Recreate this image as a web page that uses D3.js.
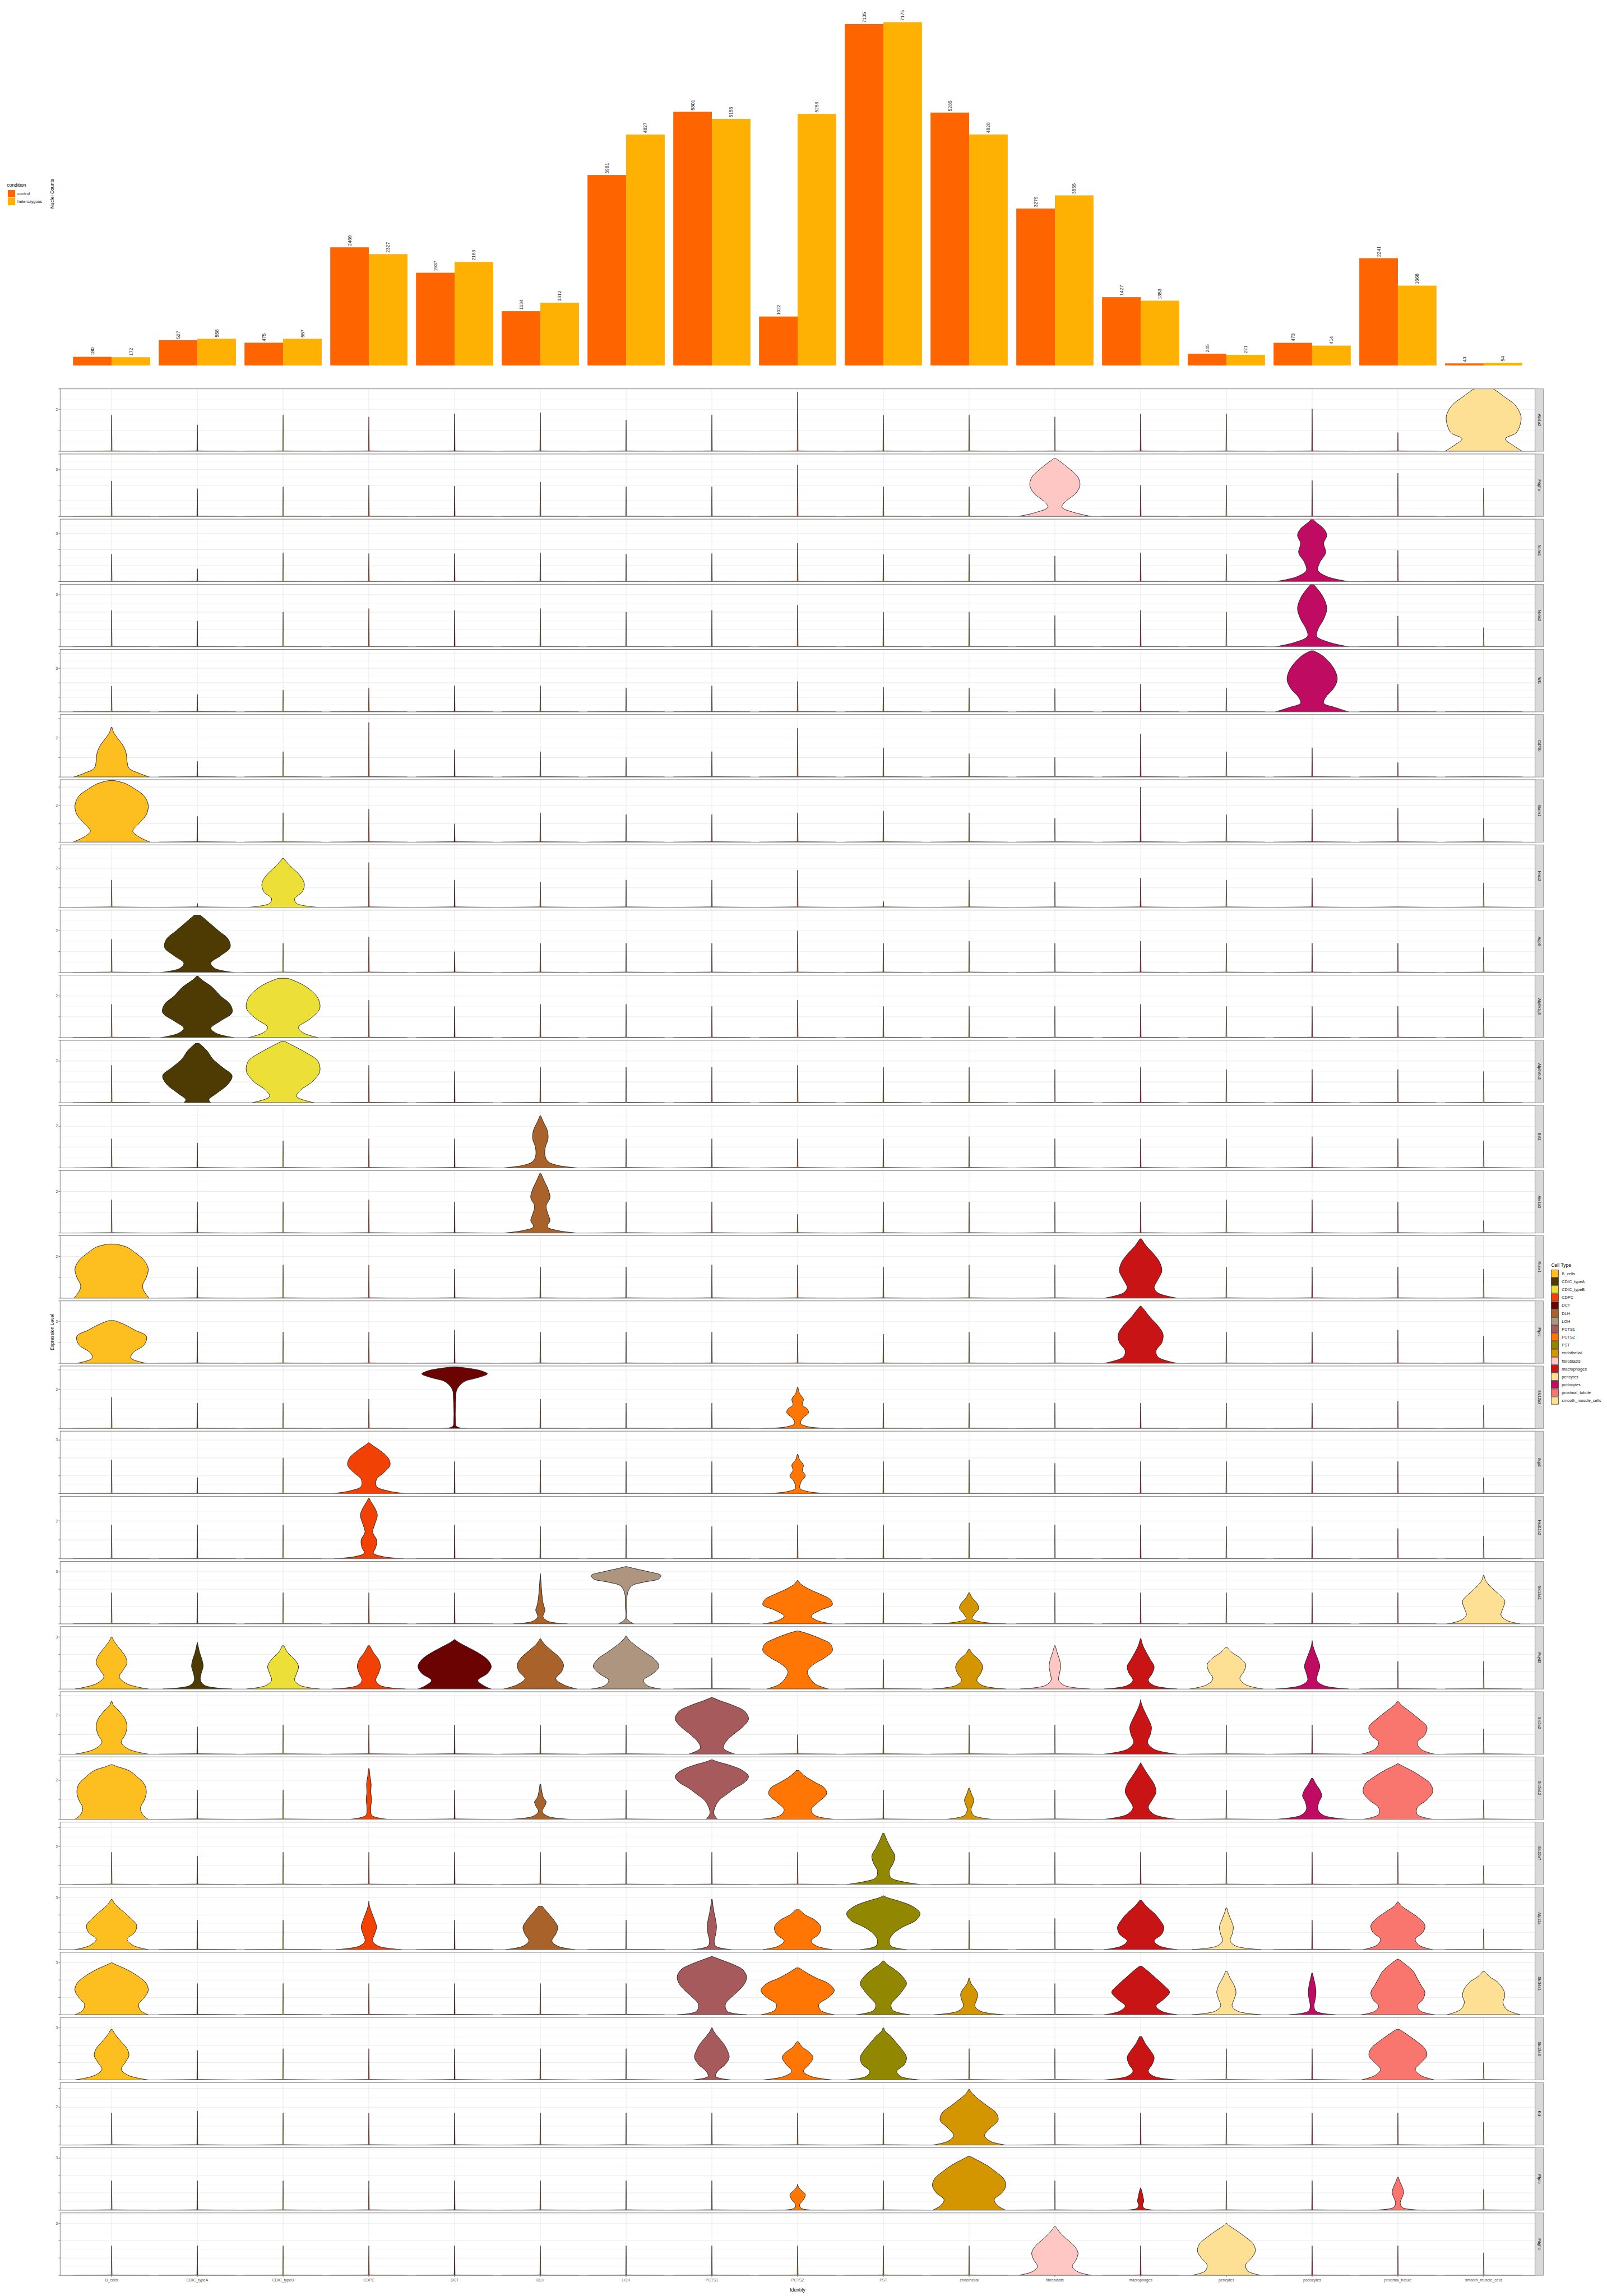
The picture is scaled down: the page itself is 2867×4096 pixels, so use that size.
<!DOCTYPE html>
<html><head><meta charset="utf-8">
<script src="https://cdn.jsdelivr.net/npm/d3@7"></script>
<style>body{margin:0;background:#fff}svg{display:block}</style>
</head><body><div id="chart"></div>
<script>
// ---------------- DATA ----------------
const cellTypes = ["B_cells","CDIC_typeA","CDIC_typeB","CDPC","DCT","DLH","LOH","PCTS1","PCTS2","PST","endothelial","fibroblasts","macrophages","pericytes","podocytes","proximal_tubule","smooth_muscle_cells"];
const cellColors = ["#FDBE1F","#4E3A03","#ECDF38","#F24105","#6B0303","#A9622A","#AD957F","#A65A5C","#FF7604","#918701","#D39601","#FEC7C3","#C91416","#FEE095","#C00B63","#F8766D","#FEE095"];
const conditions = ["control","heterozygous"];
const conditionColors = ["#FE6400","#FEB003"];
const controlCounts = [180,527,475,2469,1937,1134,3981,5301,1022,7135,5285,3279,1427,245,473,2241,43];
const heterozygousCounts = [172,558,557,2327,2163,1312,4827,5155,5258,7175,4828,3555,1353,221,414,1668,54];

const genes = ["Atp1a2","Pdgfra","Nphs1","Nphs2","Wt1","Cd79b","Bank1","Hmx2","Aqp6","Atp6v1g3","Atp6v0d2","Bst1","Akr1b3","Runx1","Ptprc","Slc12a3","Aqp2","Hsd11b2","Slc12a1","Fxyd2","Slc5a2","Slc5a12","Slc22a7","Atp11a","Slc34a1","Slc13a3","Kdr","Ptprb","Pdgfrb"];
const geneYMax = [3.0,4.0,3.9,3.6,4.3,3.2,3.4,3.2,3.0,3.0,3.0,3.0,3.0,3.0,3.0,3.2,3.5,3.3,3.6,3.6,3.2,3.2,3.3,3.6,3.6,3.6,3.3,3.6,3.6];
const geneYLabel = [2,3,3,3,3,2,2,2,2,2,2,2,2,2,2,2,3,2,3,3,2,2,2,3,3,3,2,3,3];

// height of the thin (zero-inflated) violin tails, per gene, in cell-type order; 0 = none / drawn as full violin
const spikeHeights = [
 [1.74,1.27,1.74,1.65,1.8,1.86,1.5,1.74,2.85,1.74,1.74,1.65,1.8,1.8,2.04,0.9,0],
 [2.27,1.78,1.9,2.0,1.95,2.2,1.9,1.9,3.3,1.9,1.9,0,2.0,2.0,2.3,2.77,1.8],
 [1.72,0.8,1.8,1.75,1.75,1.8,1.7,1.75,2.4,1.7,1.7,1.6,1.8,1.7,0,1.95,0],
 [2.1,1.48,2.0,2.2,2.1,2.2,2.0,2.1,2.4,2.0,2.0,1.8,2.1,2.0,0,1.77,1.1],
 [1.77,1.2,1.5,1.65,1.8,1.8,1.65,1.8,2.1,1.7,1.65,1.6,1.9,1.65,0,1.9,0],
 [0,0.8,1.3,2.8,1.4,1.3,1.0,1.3,2.5,1.5,1.2,1.0,2.2,1.3,1.5,0.74,0],
 [0,1.4,1.6,1.8,1.0,1.6,1.5,1.5,1.6,1.7,1.6,1.3,3.0,1.5,1.8,1.85,1.3],
 [1.4,0.2,0,2.3,1.4,1.3,1.4,1.4,1.9,0.3,1.4,1.3,1.5,1.4,1.5,0,1.25],
 [1.6,0,1.4,1.7,1.0,1.4,1.4,1.4,2.0,1.4,1.5,1.4,1.5,1.4,1.4,1.4,1.2],
 [1.6,0,0,1.8,1.5,1.6,1.6,1.5,1.8,1.5,1.5,1.5,1.6,1.5,1.5,1.5,1.4],
 [1.8,0,0,1.8,1.5,1.7,1.7,1.7,1.8,1.7,1.7,1.6,1.7,1.6,1.6,1.6,1.5],
 [1.4,1.2,1.3,1.4,1.4,0,1.4,1.4,1.4,1.4,1.5,1.4,1.4,1.4,1.5,1.4,1.3],
 [1.6,1.5,1.5,1.6,1.5,0,1.5,1.5,0.9,1.5,1.5,1.5,1.5,1.6,1.6,1.5,0.6],
 [0,1.5,1.6,1.6,1.4,1.5,1.5,1.6,1.6,1.5,1.6,1.6,0,1.5,1.5,1.5,1.4],
 [0,1.5,1.5,1.5,1.6,1.5,1.5,1.5,1.4,1.4,1.5,1.5,0,1.5,1.5,1.6,1.3],
 [1.6,1.3,1.3,1.5,0,1.5,1.3,1.3,0,1.3,1.3,1.3,1.3,1.3,1.3,1.4,1.2],
 [1.9,0.9,2.0,0,1.8,1.9,1.8,1.8,0,1.8,1.9,1.7,1.8,1.8,1.8,1.8,0.9],
 [1.8,1.8,1.8,0,1.8,1.7,1.8,1.7,1.8,1.8,1.9,1.8,1.8,1.7,1.7,1.6,1.2],
 [1.8,1.8,1.8,1.8,1.8,0,0,1.8,0,1.8,0,1.8,1.8,1.8,1.8,1.8,0],
 [0,0,0,0,0,0,0,1.8,0,1.7,0,0,0,0,0,1.6,1.6],
 [0,1.4,1.5,1.5,1.5,1.5,1.5,0,1.0,1.5,1.5,1.5,0,1.5,1.5,0,1.3],
 [0,1.5,1.5,0,1.5,0,1.5,0,0,1.5,0,1.5,0,1.5,0,0,1.0],
 [1.7,1.5,1.7,1.7,1.7,1.7,1.7,1.7,1.7,0,1.7,1.7,1.7,1.7,1.7,1.7,1.0],
 [0,1.7,1.7,0,1.7,0,1.7,0,0,0,1.7,1.8,0,0,1.7,0,1.2],
 [0,1.8,1.8,1.8,1.8,1.8,1.8,0,0,0,0,1.8,0,0,0,0,0],
 [0,1.7,1.8,1.8,1.8,1.8,1.8,0,0,0,1.8,1.8,0,1.8,1.8,0,1.0],
 [1.7,1.8,1.7,1.7,1.7,1.7,1.7,1.7,1.7,1.7,0,1.7,1.7,1.7,1.7,1.7,1.2],
 [1.7,1.7,1.7,1.7,1.7,1.7,1.7,1.7,0,1.7,0,1.7,0,1.7,1.7,0,1.2],
 [1.7,1.7,1.7,1.7,1.7,1.7,1.7,1.7,1.7,1.7,1.7,0,1.7,0,1.7,1.7,1.3]
];

// full violins: [gene, cell type, [[expression, relative half-width], ...]]
const violinShapes = [
 ["Atp1a2","smooth_muscle_cells",[[0,1.0],[0.3,0.75],[0.6,0.56],[0.9,0.85],[1.5,0.97],[1.8,0.95],[2.25,0.8],[2.6,0.55],[3.0,0.25],[3.2,0.02]]],
 ["Pdgfra","fibroblasts",[[0,0.95],[0.25,0.5],[0.6,0.18],[1.0,0.3],[1.5,0.55],[2.0,0.65],[2.5,0.6],[3.0,0.4],[3.4,0.2],[3.7,0.03]]],
 ["Nphs1","podocytes",[[0,0.95],[0.3,0.4],[0.7,0.15],[1.2,0.2],[1.8,0.35],[2.4,0.3],[2.9,0.38],[3.3,0.3],[3.7,0.1],[3.9,0.02]]],
 ["Nphs2","podocytes",[[0,0.95],[0.25,0.45],[0.6,0.12],[1.0,0.15],[1.6,0.3],[2.2,0.38],[2.8,0.3],[3.3,0.15],[3.6,0.03]]],
 ["Wt1","podocytes",[[0,0.95],[0.3,0.6],[0.6,0.3],[1.0,0.35],[1.6,0.55],[2.2,0.65],[2.8,0.6],[3.4,0.45],[3.9,0.25],[4.2,0.04]]],
 ["Cd79b","B_cells",[[0,0.98],[0.2,0.7],[0.45,0.45],[0.8,0.4],[1.2,0.38],[1.6,0.3],[2.0,0.15],[2.3,0.05],[2.55,0.01]]],
 ["Bank1","B_cells",[[0,1.0],[0.3,0.7],[0.6,0.55],[1.0,0.7],[1.5,0.9],[2.0,0.95],[2.5,0.85],[2.9,0.6],[3.2,0.35],[3.35,0.08]]],
 ["Hmx2","CDIC_typeB",[[0,0.9],[0.2,0.35],[0.45,0.3],[0.8,0.5],[1.2,0.55],[1.6,0.45],[2.0,0.25],[2.3,0.1],[2.5,0.02]]],
 ["Aqp6","CDIC_typeA",[[0,0.95],[0.2,0.45],[0.45,0.35],[0.8,0.6],[1.2,0.85],[1.6,0.8],[2.0,0.55],[2.4,0.3],[2.75,0.08]]],
 ["Atp6v1g3","CDIC_typeA",[[0,0.95],[0.2,0.5],[0.45,0.35],[0.8,0.6],[1.2,0.9],[1.6,0.85],[2.0,0.6],[2.4,0.4],[2.8,0.1],[2.95,0.02]]],
 ["Atp6v1g3","CDIC_typeB",[[0,0.9],[0.25,0.5],[0.5,0.4],[0.9,0.7],[1.4,0.95],[1.9,0.9],[2.3,0.7],[2.6,0.45],[2.85,0.12]]],
 ["Atp6v0d2","CDIC_typeA",[[0,0.35],[0.15,0.3],[0.45,0.5],[0.9,0.8],[1.3,0.9],[1.7,0.65],[2.1,0.4],[2.5,0.25],[2.85,0.05]]],
 ["Atp6v0d2","CDIC_typeB",[[0,0.8],[0.3,0.35],[0.6,0.45],[1.0,0.75],[1.5,0.95],[2.0,0.9],[2.4,0.6],[2.75,0.25],[2.95,0.04]]],
 ["Bst1","DLH",[[0,0.95],[0.12,0.45],[0.3,0.2],[0.6,0.12],[1.0,0.13],[1.4,0.2],[1.8,0.18],[2.2,0.08],[2.5,0.01]]],
 ["Akr1b3","DLH",[[0,0.95],[0.12,0.45],[0.3,0.18],[0.6,0.25],[0.9,0.2],[1.3,0.15],[1.7,0.25],[2.1,0.2],[2.5,0.1],[2.85,0.02]]],
 ["Runx1","B_cells",[[0,0.98],[0.3,0.85],[0.6,0.8],[1.0,0.9],[1.4,0.95],[1.8,0.85],[2.2,0.6],[2.45,0.4],[2.6,0.1]]],
 ["Runx1","macrophages",[[0,0.95],[0.25,0.45],[0.5,0.35],[0.9,0.45],[1.3,0.55],[1.7,0.5],[2.1,0.35],[2.5,0.15],[2.85,0.02]]],
 ["Ptprc","B_cells",[[0,0.9],[0.25,0.5],[0.5,0.55],[0.9,0.85],[1.3,0.9],[1.6,0.6],[1.85,0.35],[2.05,0.08]]],
 ["Ptprc","macrophages",[[0,0.95],[0.3,0.45],[0.6,0.4],[1.0,0.55],[1.4,0.58],[1.8,0.45],[2.2,0.25],[2.6,0.08],[2.75,0.01]]],
 ["Slc12a3","DCT",[[0,0.3],[0.1,0.05],[0.5,0.02],[1.0,0.02],[1.5,0.03],[2.0,0.06],[2.4,0.25],[2.6,0.6],[2.8,0.85],[2.95,0.7],[3.1,0.3],[3.15,0.04]]],
 ["Slc12a3","PCTS2",[[0,0.95],[0.08,0.3],[0.25,0.08],[0.5,0.12],[0.8,0.28],[1.0,0.25],[1.2,0.12],[1.5,0.15],[1.8,0.05],[2.1,0.01]]],
 ["Aqp2","CDPC",[[0,0.95],[0.15,0.5],[0.4,0.2],[0.8,0.2],[1.2,0.4],[1.6,0.55],[2.0,0.5],[2.4,0.3],[2.7,0.1],[2.85,0.01]]],
 ["Aqp2","PCTS2",[[0,0.9],[0.1,0.3],[0.3,0.06],[0.7,0.1],[1.0,0.2],[1.3,0.12],[1.6,0.15],[1.9,0.05],[2.2,0.01]]],
 ["Hsd11b2","CDPC",[[0,0.9],[0.12,0.35],[0.3,0.12],[0.6,0.18],[1.0,0.2],[1.4,0.1],[1.8,0.15],[2.3,0.22],[2.7,0.15],[3.0,0.06],[3.2,0.01]]],
 ["Slc12a1","DLH",[[0,0.7],[0.15,0.2],[0.4,0.07],[0.8,0.12],[1.1,0.08],[1.5,0.05],[2.0,0.03],[2.6,0.01],[2.9,0.0]]],
 ["Slc12a1","LOH",[[0,0.2],[0.3,0.02],[1.0,0.02],[1.8,0.04],[2.2,0.15],[2.4,0.45],[2.6,0.85],[2.8,0.9],[3.0,0.6],[3.2,0.2],[3.3,0.02]]],
 ["Slc12a1","PCTS2",[[0,0.9],[0.2,0.5],[0.45,0.35],[0.8,0.6],[1.1,0.9],[1.4,0.85],[1.7,0.6],[2.0,0.3],[2.3,0.08],[2.5,0.01]]],
 ["Slc12a1","endothelial",[[0,0.95],[0.1,0.35],[0.3,0.08],[0.6,0.15],[0.9,0.25],[1.2,0.2],[1.5,0.08],[1.8,0.01]]],
 ["Slc12a1","smooth_muscle_cells",[[0,0.95],[0.2,0.6],[0.5,0.45],[0.9,0.5],[1.3,0.55],[1.7,0.4],[2.1,0.2],[2.5,0.05],[2.8,0.01]]],
 ["Fxyd2","B_cells",[[0,0.95],[0.3,0.4],[0.7,0.2],[1.1,0.3],[1.5,0.4],[1.9,0.35],[2.3,0.22],[2.7,0.08],[3.0,0.01]]],
 ["Fxyd2","CDIC_typeA",[[0,0.9],[0.2,0.2],[0.5,0.08],[0.9,0.1],[1.3,0.15],[1.7,0.12],[2.1,0.06],[2.5,0.02],[2.7,0.0]]],
 ["Fxyd2","CDIC_typeB",[[0,0.95],[0.2,0.45],[0.5,0.3],[0.9,0.35],[1.3,0.4],[1.7,0.3],[2.1,0.12],[2.5,0.02]]],
 ["Fxyd2","CDPC",[[0,0.95],[0.2,0.3],[0.5,0.18],[0.9,0.25],[1.3,0.3],[1.7,0.25],[2.1,0.12],[2.5,0.02]]],
 ["Fxyd2","DCT",[[0,0.95],[0.2,0.75],[0.5,0.6],[0.9,0.85],[1.3,0.95],[1.7,0.85],[2.1,0.6],[2.4,0.35],[2.7,0.1],[2.85,0.01]]],
 ["Fxyd2","DLH",[[0,0.95],[0.25,0.6],[0.6,0.4],[1.0,0.55],[1.4,0.6],[1.8,0.5],[2.2,0.3],[2.6,0.1],[2.9,0.01]]],
 ["Fxyd2","LOH",[[0,0.9],[0.2,0.55],[0.5,0.45],[0.9,0.7],[1.3,0.85],[1.7,0.75],[2.1,0.5],[2.5,0.25],[2.9,0.05],[3.05,0.01]]],
 ["Fxyd2","PCTS2",[[0,0.8],[0.3,0.45],[0.7,0.3],[1.0,0.25],[1.4,0.4],[1.8,0.7],[2.2,0.9],[2.6,0.85],[2.9,0.6],[3.2,0.25],[3.35,0.02]]],
 ["Fxyd2","endothelial",[[0,0.95],[0.2,0.35],[0.5,0.2],[0.9,0.3],[1.3,0.35],[1.7,0.25],[2.0,0.1],[2.3,0.01]]],
 ["Fxyd2","fibroblasts",[[0,0.9],[0.2,0.25],[0.5,0.1],[0.9,0.12],[1.3,0.15],[1.7,0.12],[2.1,0.06],[2.5,0.01]]],
 ["Fxyd2","macrophages",[[0,0.95],[0.2,0.35],[0.5,0.2],[0.9,0.3],[1.3,0.35],[1.7,0.25],[2.1,0.15],[2.5,0.06],[2.9,0.01]]],
 ["Fxyd2","pericytes",[[0,0.95],[0.25,0.5],[0.6,0.35],[1.0,0.45],[1.4,0.5],[1.8,0.35],[2.1,0.15],[2.4,0.02]]],
 ["Fxyd2","podocytes",[[0,0.95],[0.2,0.3],[0.5,0.12],[0.9,0.15],[1.3,0.2],[1.7,0.15],[2.1,0.08],[2.5,0.02],[2.8,0.0]]],
 ["Slc5a2","B_cells",[[0,0.95],[0.25,0.45],[0.6,0.25],[1.0,0.35],[1.4,0.4],[1.8,0.35],[2.2,0.2],[2.5,0.05],[2.7,0.01]]],
 ["Slc5a2","PCTS1",[[0,0.6],[0.3,0.3],[0.6,0.35],[1.0,0.55],[1.4,0.8],[1.8,0.95],[2.2,0.85],[2.5,0.55],[2.75,0.2],[2.9,0.02]]],
 ["Slc5a2","macrophages",[[0,0.95],[0.25,0.35],[0.6,0.18],[1.0,0.25],[1.4,0.28],[1.8,0.2],[2.2,0.1],[2.6,0.02],[2.8,0.0]]],
 ["Slc5a2","proximal_tubule",[[0,0.95],[0.25,0.6],[0.6,0.5],[1.0,0.7],[1.4,0.75],[1.8,0.55],[2.2,0.3],[2.5,0.1],[2.7,0.01]]],
 ["Slc5a12","B_cells",[[0,0.95],[0.25,0.8],[0.6,0.75],[1.0,0.85],[1.4,0.9],[1.8,0.85],[2.2,0.65],[2.5,0.45],[2.7,0.15],[2.8,0.02]]],
 ["Slc5a12","CDPC",[[0,0.5],[0.2,0.08],[0.6,0.05],[1.0,0.07],[1.4,0.05],[1.8,0.06],[2.2,0.03],[2.6,0.01]]],
 ["Slc5a12","DLH",[[0,0.8],[0.15,0.2],[0.4,0.05],[0.7,0.12],[0.9,0.15],[1.1,0.08],[1.4,0.04],[1.8,0.01]]],
 ["Slc5a12","PCTS1",[[0,0.15],[0.3,0.05],[0.7,0.1],[1.0,0.2],[1.3,0.4],[1.6,0.6],[1.9,0.85],[2.2,0.95],[2.5,0.8],[2.75,0.5],[2.95,0.15],[3.05,0.02]]],
 ["Slc5a12","PCTS2",[[0,0.95],[0.2,0.45],[0.5,0.35],[0.9,0.55],[1.3,0.75],[1.6,0.7],[1.9,0.45],[2.2,0.2],[2.5,0.04]]],
 ["Slc5a12","endothelial",[[0,0.6],[0.2,0.12],[0.5,0.05],[0.8,0.1],[1.0,0.12],[1.3,0.06],[1.6,0.01]]],
 ["Slc5a12","macrophages",[[0,0.95],[0.25,0.35],[0.6,0.2],[1.0,0.3],[1.4,0.4],[1.8,0.35],[2.2,0.22],[2.5,0.12],[2.8,0.03],[2.9,0.0]]],
 ["Slc5a12","podocytes",[[0,0.95],[0.2,0.3],[0.5,0.15],[0.9,0.18],[1.2,0.25],[1.5,0.2],[1.8,0.1],[2.1,0.02]]],
 ["Slc5a12","proximal_tubule",[[0,0.9],[0.25,0.5],[0.6,0.5],[1.0,0.75],[1.4,0.9],[1.8,0.85],[2.2,0.6],[2.5,0.35],[2.75,0.1],[2.85,0.01]]],
 ["Slc22a7","PST",[[0,0.95],[0.15,0.5],[0.35,0.2],[0.7,0.15],[1.1,0.25],[1.5,0.3],[1.9,0.2],[2.3,0.1],[2.7,0.02]]],
 ["Atp11a","B_cells",[[0,0.95],[0.25,0.55],[0.6,0.4],[1.0,0.6],[1.4,0.65],[1.8,0.5],[2.2,0.3],[2.6,0.1],[2.9,0.01]]],
 ["Atp11a","CDPC",[[0,0.85],[0.2,0.25],[0.5,0.1],[0.9,0.15],[1.3,0.2],[1.7,0.15],[2.1,0.08],[2.5,0.02],[2.8,0.0]]],
 ["Atp11a","DLH",[[0,0.9],[0.2,0.45],[0.5,0.3],[0.9,0.4],[1.3,0.45],[1.7,0.35],[2.1,0.2],[2.5,0.05]]],
 ["Atp11a","PCTS1",[[0,0.5],[0.2,0.1],[0.5,0.06],[0.9,0.1],[1.3,0.12],[1.7,0.1],[2.1,0.06],[2.5,0.03],[2.9,0.01]]],
 ["Atp11a","PCTS2",[[0,0.9],[0.2,0.5],[0.5,0.35],[0.9,0.55],[1.3,0.6],[1.7,0.45],[2.0,0.2],[2.3,0.05]]],
 ["Atp11a","PST",[[0,0.6],[0.2,0.2],[0.5,0.15],[0.9,0.25],[1.3,0.5],[1.7,0.85],[2.1,0.95],[2.5,0.75],[2.8,0.4],[3.0,0.1],[3.1,0.01]]],
 ["Atp11a","macrophages",[[0,0.95],[0.2,0.5],[0.5,0.35],[0.9,0.55],[1.3,0.6],[1.7,0.5],[2.1,0.35],[2.5,0.15],[2.85,0.02]]],
 ["Atp11a","pericytes",[[0,0.9],[0.2,0.25],[0.5,0.1],[0.9,0.15],[1.3,0.18],[1.7,0.12],[2.1,0.05],[2.4,0.01]]],
 ["Atp11a","proximal_tubule",[[0,0.9],[0.25,0.55],[0.6,0.45],[1.0,0.65],[1.4,0.7],[1.8,0.55],[2.2,0.3],[2.5,0.1],[2.75,0.01]]],
 ["Slc34a1","B_cells",[[0,0.95],[0.25,0.75],[0.6,0.7],[1.0,0.85],[1.4,0.95],[1.8,0.9],[2.2,0.7],[2.6,0.4],[2.9,0.1],[3.0,0.01]]],
 ["Slc34a1","PCTS1",[[0,0.9],[0.2,0.4],[0.6,0.35],[1.0,0.5],[1.4,0.7],[1.8,0.85],[2.2,0.9],[2.6,0.8],[2.9,0.55],[3.2,0.2],[3.35,0.02]]],
 ["Slc34a1","PCTS2",[[0,0.95],[0.25,0.6],[0.6,0.55],[1.0,0.8],[1.4,0.95],[1.8,0.8],[2.1,0.5],[2.4,0.25],[2.7,0.04]]],
 ["Slc34a1","PST",[[0,0.7],[0.25,0.25],[0.6,0.2],[1.0,0.35],[1.4,0.5],[1.8,0.6],[2.2,0.5],[2.6,0.3],[2.9,0.1],[3.1,0.02]]],
 ["Slc34a1","endothelial",[[0,0.9],[0.2,0.3],[0.5,0.15],[0.9,0.2],[1.2,0.22],[1.5,0.15],[1.8,0.05],[2.1,0.01]]],
 ["Slc34a1","macrophages",[[0,0.95],[0.2,0.55],[0.5,0.4],[0.9,0.6],[1.3,0.75],[1.7,0.6],[2.1,0.4],[2.5,0.2],[2.8,0.03]]],
 ["Slc34a1","pericytes",[[0,0.9],[0.2,0.3],[0.5,0.15],[0.9,0.2],[1.3,0.25],[1.7,0.2],[2.1,0.1],[2.5,0.02]]],
 ["Slc34a1","podocytes",[[0,0.6],[0.2,0.1],[0.5,0.05],[0.9,0.08],[1.3,0.1],[1.7,0.08],[2.1,0.04],[2.4,0.01]]],
 ["Slc34a1","proximal_tubule",[[0,0.95],[0.2,0.6],[0.5,0.5],[0.9,0.65],[1.3,0.7],[1.7,0.6],[2.1,0.5],[2.5,0.4],[2.9,0.2],[3.2,0.02]]],
 ["Slc34a1","smooth_muscle_cells",[[0,0.95],[0.3,0.6],[0.7,0.5],[1.1,0.55],[1.5,0.5],[1.9,0.35],[2.2,0.15],[2.5,0.02]]],
 ["Slc13a3","B_cells",[[0,0.95],[0.25,0.45],[0.6,0.25],[1.0,0.35],[1.4,0.45],[1.8,0.4],[2.2,0.25],[2.6,0.1],[2.9,0.02]]],
 ["Slc13a3","PCTS1",[[0,0.5],[0.2,0.1],[0.5,0.15],[0.9,0.35],[1.3,0.45],[1.7,0.4],[2.1,0.3],[2.5,0.15],[2.8,0.05],[3.0,0.01]]],
 ["Slc13a3","PCTS2",[[0,0.9],[0.2,0.35],[0.5,0.15],[0.9,0.3],[1.3,0.4],[1.6,0.3],[1.9,0.12],[2.2,0.02]]],
 ["Slc13a3","PST",[[0,0.95],[0.2,0.45],[0.5,0.35],[0.9,0.55],[1.3,0.6],[1.7,0.5],[2.1,0.35],[2.5,0.2],[2.8,0.05],[3.0,0.01]]],
 ["Slc13a3","macrophages",[[0,0.95],[0.2,0.35],[0.5,0.2],[0.9,0.3],[1.3,0.35],[1.7,0.25],[2.1,0.12],[2.5,0.03]]],
 ["Slc13a3","proximal_tubule",[[0,0.95],[0.25,0.6],[0.6,0.45],[1.0,0.6],[1.4,0.75],[1.8,0.7],[2.2,0.5],[2.6,0.25],[2.9,0.05]]],
 ["Kdr","endothelial",[[0,0.95],[0.2,0.55],[0.5,0.4],[0.9,0.55],[1.3,0.75],[1.7,0.7],[2.1,0.45],[2.5,0.2],[2.8,0.05],[2.95,0.01]]],
 ["Ptprb","endothelial",[[0,0.95],[0.25,0.75],[0.6,0.65],[1.0,0.85],[1.4,0.95],[1.8,0.9],[2.2,0.7],[2.6,0.45],[2.9,0.2],[3.1,0.03]]],
 ["Ptprb","PCTS2",[[0,0.7],[0.1,0.1],[0.3,0.05],[0.6,0.15],[0.9,0.2],[1.1,0.12],[1.3,0.03],[1.5,0.0]]],
 ["Ptprb","macrophages",[[0,0.8],[0.1,0.1],[0.3,0.05],[0.5,0.08],[0.8,0.06],[1.1,0.03],[1.3,0.0]]],
 ["Ptprb","proximal_tubule",[[0,0.7],[0.15,0.12],[0.4,0.06],[0.7,0.1],[1.0,0.15],[1.3,0.12],[1.6,0.06],[1.9,0.01]]],
 ["Pdgfrb","fibroblasts",[[0,0.95],[0.2,0.6],[0.5,0.45],[0.9,0.55],[1.3,0.6],[1.7,0.5],[2.1,0.3],[2.5,0.12],[2.8,0.02]]],
 ["Pdgfrb","pericytes",[[0,0.9],[0.25,0.55],[0.6,0.5],[1.0,0.65],[1.4,0.75],[1.8,0.7],[2.2,0.5],[2.6,0.25],[2.9,0.05],[3.0,0.01]]]
];

// ---------------- LAYOUT ----------------
const S = 0.819;
const FONT = "'Liberation Sans', Arial, Helvetica, sans-serif";
const svg = d3.select("#chart").append("svg").attr("width", 2867).attr("height", 4096)
  .style("font-family", FONT);
svg.append("rect").attr("width", 2867).attr("height", 4096).attr("fill", "#fff");
const defs = svg.append("defs");
const root = svg.append("g").attr("transform", `scale(${S})`);

const plotLeft = 131, plotRight = 3344;
const x = d3.scalePoint().domain(cellTypes).range([plotLeft, plotRight]).padding(0.6);
const step = x.step();
const colorOf = d3.scaleOrdinal().domain(cellTypes).range(cellColors);

// ---------------- BAR CHART ----------------
const barBottom = 796;
const allCounts = controlCounts.concat(heterozygousCounts);
const yBar = d3.scaleLinear().domain([0, d3.max(allCounts) * 1.05]).range([barBottom, 10.9]);
const barData = [];
cellTypes.forEach((c, i) => {
  barData.push({cell: c, cond: 0, v: controlCounts[i]});
  barData.push({cell: c, cond: 1, v: heterozygousCounts[i]});
});
const bw = step * 0.45;
const gBar = root.append("g");
gBar.selectAll("rect.bar").data(barData).join("rect")
  .attr("x", d => x(d.cell) - bw + d.cond * bw)
  .attr("y", d => yBar(d.v))
  .attr("width", bw)
  .attr("height", d => barBottom - yBar(d.v))
  .attr("fill", d => conditionColors[d.cond]);
gBar.selectAll("text.lab").data(barData).join("text")
  .attr("transform", d => `translate(${x(d.cell) - bw / 2 + d.cond * bw},${yBar(d.v) - 3}) rotate(-90)`)
  .attr("dy", "0.35em")
  .attr("font-size", 10.5).attr("fill", "#2b2b2b")
  .text(d => d.v);
gBar.append("text").attr("transform", "translate(117,422) rotate(-90)")
  .attr("text-anchor", "middle").attr("font-size", 10.5).attr("fill", "#000").text("Nuclei Counts");
// condition legend
const gCond = root.append("g");
gCond.append("text").attr("x", 15).attr("y", 406).attr("font-size", 10.5).attr("fill", "#000").text("condition");
conditions.forEach((c, k) => {
  gCond.append("rect").attr("x", 17).attr("y", 414 + k * 17).attr("width", 16).attr("height", 16).attr("fill", conditionColors[k]);
  gCond.append("text").attr("x", 38).attr("y", 425.5 + k * 17).attr("font-size", 9).attr("fill", "#222").text(c);
});

// ---------------- STACKED VIOLINS ----------------
const panelTop0 = 847, panelStride = 141.9, panelH = 136;
const hw = step * 0.45;
genes.forEach((gene, gi) => {
  const top = panelTop0 + gi * panelStride, bottom = top + panelH;
  const ymax = geneYMax[gi];
  const y = d3.scaleLinear().domain([0, ymax]).range([bottom, top]);
  const g = root.append("g");
  const clipId = "clip" + gi;
  defs.append("clipPath").attr("id", clipId).attr("clipPathUnits", "userSpaceOnUse").append("rect")
    .attr("x", plotLeft).attr("y", top).attr("width", plotRight - plotLeft).attr("height", panelH);
  // grid
  const minor = d3.range(0.5, ymax, 1);
  const major = d3.range(0, ymax + 1e-9, 1);
  g.selectAll("line.minor").data(minor).join("line")
    .attr("x1", plotLeft).attr("x2", plotRight).attr("y1", d => y(d)).attr("y2", d => y(d))
    .attr("stroke", "#F3F3F3").attr("stroke-width", 0.8);
  g.selectAll("line.major").data(major).join("line")
    .attr("x1", plotLeft).attr("x2", plotRight).attr("y1", d => y(d)).attr("y2", d => y(d))
    .attr("stroke", "#EBEBEB").attr("stroke-width", 1.3);
  g.selectAll("line.vgrid").data(cellTypes).join("line")
    .attr("x1", d => x(d)).attr("x2", d => x(d)).attr("y1", top).attr("y2", bottom)
    .attr("stroke", "#EBEBEB").attr("stroke-width", 1.3);
  // violins
  const vg = g.append("g").attr("clip-path", `url(#${clipId})`);
  const shapesHere = violinShapes.filter(s => s[0] === gene);
  cellTypes.forEach((c, ci) => {
    const cx = x(c);
    const shape = shapesHere.find(s => s[1] === c);
    if (shape) {
      const area = d3.area().curve(d3.curveCatmullRom.alpha(0.5))
        .x0(d => cx - d[1] * hw).x1(d => cx + d[1] * hw).y(d => y(d[0]));
      vg.append("path").attr("d", area(shape[2]))
        .attr("fill", colorOf(c)).attr("stroke", "#1a1a1a").attr("stroke-width", 1.1)
        .attr("stroke-linejoin", "round");
    } else {
      const h = spikeHeights[gi][ci];
      // flattened zero-inflated violin: wide base at 0 and a thin tail up to its maximum
      const prof = [[0, 1.0], [ymax * 0.007, 0.012], [Math.max(h, ymax * 0.008), 0.002]];
      const area = d3.area().curve(d3.curveLinear)
        .x0(d => cx - d[1] * hw).x1(d => cx + d[1] * hw).y(d => y(d[0]));
      vg.append("path").attr("d", area(prof))
        .attr("fill", colorOf(c)).attr("stroke", "#222").attr("stroke-width", 0.9)
        .attr("stroke-linejoin", "miter");
    }
  });
  // border
  g.append("rect").attr("x", plotLeft).attr("y", top).attr("width", plotRight - plotLeft).attr("height", panelH)
    .attr("fill", "none").attr("stroke", "#7a7a7a").attr("stroke-width", 1.2);
  // y ticks
  g.selectAll("line.tick").data(major).join("line")
    .attr("x1", plotLeft - 3.5).attr("x2", plotLeft).attr("y1", d => y(d)).attr("y2", d => y(d))
    .attr("stroke", "#555").attr("stroke-width", 1);
  g.append("text").attr("x", plotLeft - 5).attr("y", y(geneYLabel[gi])).attr("dy", "0.35em")
    .attr("text-anchor", "end").attr("font-size", 8).attr("fill", "#4d4d4d").text(geneYLabel[gi]);
  // strip
  g.append("rect").attr("x", plotRight).attr("y", top).attr("width", 18).attr("height", panelH)
    .attr("fill", "#D9D9D9").attr("stroke", "#8a8a8a").attr("stroke-width", 1);
  g.append("text").attr("transform", `translate(${plotRight + 9},${top + panelH / 2}) rotate(90)`)
    .attr("text-anchor", "middle").attr("dy", "0.35em").attr("font-size", 8.5).attr("fill", "#1a1a1a").text(gene);
});

// x axis (bottom)
const lastBottom = panelTop0 + (genes.length - 1) * panelStride + panelH;
const gx = root.append("g");
gx.selectAll("line").data(cellTypes).join("line")
  .attr("x1", d => x(d)).attr("x2", d => x(d)).attr("y1", lastBottom).attr("y2", lastBottom + 3.5)
  .attr("stroke", "#555").attr("stroke-width", 1);
gx.selectAll("text").data(cellTypes).join("text")
  .attr("x", d => x(d)).attr("y", lastBottom + 13).attr("text-anchor", "middle")
  .attr("font-size", 8.5).attr("fill", "#4d4d4d").text(d => d);
root.append("text").attr("x", (plotLeft + plotRight) / 2).attr("y", 4991).attr("text-anchor", "middle")
  .attr("font-size", 10.5).attr("fill", "#000").text("Identity");
root.append("text").attr("transform", `translate(117,${(panelTop0 + lastBottom) / 2}) rotate(-90)`)
  .attr("text-anchor", "middle").attr("font-size", 10.5).attr("fill", "#000").text("Expression Level");

// Cell Type legend
const gLeg = root.append("g");
gLeg.append("text").attr("x", 3379).attr("y", 2760).attr("font-size", 10.5).attr("fill", "#000").text("Cell Type");
gLeg.selectAll("rect").data(cellTypes).join("rect")
  .attr("x", 3379).attr("y", (d, i) => 2766 + i * 17.3).attr("width", 16).attr("height", 16)
  .attr("fill", d => colorOf(d)).attr("stroke", "#444").attr("stroke-width", 1);
gLeg.selectAll("text.l").data(cellTypes).join("text")
  .attr("x", 3402).attr("y", (d, i) => 2766 + i * 17.3 + 11.5)
  .attr("font-size", 9).attr("fill", "#222").text(d => d);
</script></body></html>
